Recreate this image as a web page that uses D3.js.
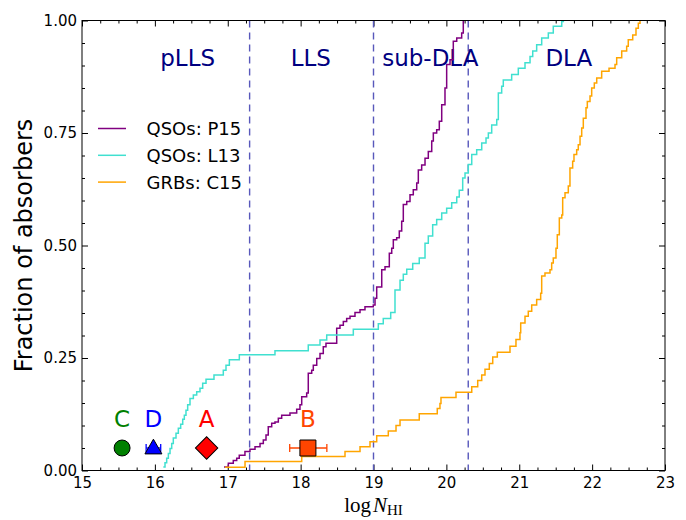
<!DOCTYPE html>
<html><head><meta charset="utf-8">
<script src="https://cdn.jsdelivr.net/npm/d3@7"></script>
<style>body{margin:0;background:#fff}svg{display:block}</style>
</head><body>
<svg id="c" width="686" height="520"></svg>
<script>
// ---- data ----
const p15LogN = [16.949,17.008,17.076,17.123,17.158,17.236,17.305,17.374,17.443,17.488,17.525,17.556,17.603,17.648,17.694,17.740,17.854,17.946,17.991,18.015,18.083,18.105,18.152,18.174,18.221,18.266,18.311,18.348,18.495,18.540,18.586,18.632,18.678,18.746,18.815,18.883,18.997,19.021,19.044,19.113,19.158,19.217,19.250,19.272,19.318,19.354,19.387,19.409,19.456,19.501,19.546,19.593,19.615,19.661,19.707,19.752,19.799,19.821,19.867,19.903,19.936,19.981,20.004,20.050,20.095,20.142,20.210,20.232];
const p15Frac = [0.008,0.016,0.022,0.027,0.034,0.042,0.047,0.053,0.060,0.068,0.079,0.097,0.105,0.108,0.116,0.123,0.128,0.136,0.146,0.164,0.172,0.216,0.223,0.234,0.249,0.260,0.275,0.283,0.316,0.323,0.331,0.338,0.343,0.351,0.357,0.364,0.368,0.383,0.408,0.446,0.453,0.483,0.494,0.513,0.517,0.532,0.554,0.591,0.598,0.613,0.624,0.639,0.668,0.679,0.694,0.709,0.732,0.750,0.757,0.776,0.813,0.850,0.902,0.913,0.954,0.961,0.972,1.0];

const l13LogN = [16.116,16.139,16.162,16.185,16.208,16.231,16.253,16.290,16.322,16.354,16.382,16.404,16.427,16.450,16.482,16.528,16.574,16.619,16.656,16.702,16.811,16.939,16.976,17.022,17.159,17.648,18.105,18.266,18.358,18.723,19.066,19.134,19.236,19.295,19.364,19.409,19.456,19.538,19.628,19.707,19.752,19.812,19.867,19.936,20.004,20.073,20.142,20.177,20.224,20.256,20.301,20.348,20.416,20.485,20.544,20.576,20.622,20.691,20.713,20.759,20.781,20.896,20.987,21.079,21.148,21.185,21.239,21.308,21.399,21.467,21.583,21.605];
const l13Frac = [0.008,0.017,0.027,0.038,0.049,0.060,0.072,0.083,0.094,0.103,0.114,0.123,0.134,0.146,0.160,0.168,0.175,0.183,0.194,0.203,0.212,0.223,0.234,0.246,0.257,0.266,0.279,0.290,0.301,0.314,0.326,0.338,0.351,0.401,0.423,0.436,0.447,0.460,0.472,0.505,0.521,0.546,0.558,0.572,0.583,0.595,0.608,0.623,0.650,0.661,0.680,0.702,0.713,0.728,0.739,0.750,0.768,0.780,0.839,0.854,0.868,0.880,0.894,0.906,0.920,0.932,0.946,0.961,0.972,0.987,0.998,1.0];

const c15LogN = [16.962,17.237,18.015,18.609,18.815,18.952,19.044,19.203,19.309,19.364,19.628,19.875,19.912,19.926,20.132,20.348,20.430,20.485,20.530,20.589,20.636,20.699,20.873,20.955,21.010,21.020,21.079,21.124,21.171,21.239,21.294,21.308,21.353,21.422,21.445,21.467,21.504,21.522,21.550,21.583,21.596,21.628,21.673,21.696,21.733,21.751,21.788,21.810,21.834,21.857,21.879,21.916,21.934,21.971,21.994,22.030,22.063,22.131,22.232,22.314,22.337,22.406,22.474,22.496,22.557,22.602,22.634,22.657];
const c15Frac = [0.007,0.020,0.031,0.042,0.053,0.064,0.077,0.088,0.100,0.112,0.126,0.138,0.149,0.162,0.174,0.186,0.200,0.212,0.225,0.238,0.252,0.263,0.276,0.291,0.306,0.328,0.343,0.354,0.368,0.380,0.394,0.432,0.439,0.446,0.461,0.472,0.494,0.524,0.561,0.568,0.606,0.617,0.632,0.672,0.687,0.702,0.713,0.724,0.743,0.761,0.783,0.806,0.820,0.832,0.850,0.861,0.872,0.887,0.894,0.902,0.917,0.932,0.943,0.957,0.968,0.983,0.994,1.0];

const seriesNames = ["QSOs: P15","QSOs: L13","GRBs: C15"];
const seriesColors = ["#800080","#40e0d0","#ffa500"];

const boundaries = [17.3, 19.0, 20.3];
const regionNames = ["pLLS","LLS","sub-DLA","DLA"];
const regionLogN = [16.45, 18.14, 19.78, 21.68];

const markerNames = ["C","D","A","B"];
const markerLogN = [15.55, 15.98, 16.71, 18.10];
const markerFrac = [0.05, 0.05, 0.05, 0.05];
const markerErrLo = [null, 15.88, null, 17.85];
const markerErrHi = [null, 16.08, null, 18.36];
const markerColors = ["#008000","#0000ff","#ff0000","#ff4500"];
const markerShapes = ["circle","triangle","diamond","square"];

const xTicks = [15,16,17,18,19,20,21,22,23];
const yTicks = [0,0.25,0.5,0.75,1.0];

// ---- chart ----
const svg = d3.select("#c");
const L = 82, R = 665, T = 20.5, B = 470.5;
const x = d3.scaleLinear().domain([15,23]).range([L,R]);
const y = d3.scaleLinear().domain([0,1]).range([B,T]);
const font = "'DejaVu Sans', sans-serif";

// minor tick values
const xMinor = d3.range(15, 23.001, 0.25).filter(v => Math.abs(v - Math.round(v)) > 1e-6);
const yMinor = d3.range(0, 1.0001, 0.05).filter(v => Math.abs(v*4 - Math.round(v*4)) > 1e-6);

function styleAxis(g){ g.select(".domain").remove(); g.selectAll("line").attr("stroke","#000"); g.selectAll("text").attr("font-family",font).attr("font-size",15).attr("fill","#000"); }

svg.append("g").attr("transform",`translate(0,${B})`).call(d3.axisBottom(x).tickValues(xTicks).tickFormat(d3.format("d")).tickSizeInner(-6).tickSizeOuter(0).tickPadding(7)).call(styleAxis);
svg.append("g").attr("transform",`translate(0,${B})`).call(d3.axisBottom(x).tickValues(xMinor).tickFormat("").tickSizeInner(-3).tickSizeOuter(0)).call(styleAxis);
svg.append("g").attr("transform",`translate(0,${T})`).call(d3.axisTop(x).tickValues(xTicks).tickFormat("").tickSizeInner(-6).tickSizeOuter(0)).call(styleAxis);
svg.append("g").attr("transform",`translate(0,${T})`).call(d3.axisTop(x).tickValues(xMinor).tickFormat("").tickSizeInner(-3).tickSizeOuter(0)).call(styleAxis);
svg.append("g").attr("transform",`translate(${L},0)`).call(d3.axisLeft(y).tickValues(yTicks).tickFormat(d3.format(".2f")).tickSizeInner(-6).tickSizeOuter(0).tickPadding(5)).call(styleAxis);
svg.append("g").attr("transform",`translate(${L},0)`).call(d3.axisLeft(y).tickValues(yMinor).tickFormat("").tickSizeInner(-3).tickSizeOuter(0)).call(styleAxis);
svg.append("g").attr("transform",`translate(${R},0)`).call(d3.axisRight(y).tickValues(yTicks).tickFormat("").tickSizeInner(-6).tickSizeOuter(0)).call(styleAxis);
svg.append("g").attr("transform",`translate(${R},0)`).call(d3.axisRight(y).tickValues(yMinor).tickFormat("").tickSizeInner(-3).tickSizeOuter(0)).call(styleAxis);

// boundaries
svg.append("g").selectAll("line").data(boundaries).join("line")
  .attr("x1",d=>x(d)).attr("x2",d=>x(d)).attr("y1",T).attr("y2",B)
  .attr("stroke","#5858bb").attr("stroke-width",1.4).attr("stroke-dasharray","7,5");

// region labels
svg.append("g").selectAll("text").data(regionNames).join("text")
  .attr("x",(d,i)=>x(regionLogN[i])).attr("y",66).attr("text-anchor","middle")
  .attr("font-family",font).attr("font-size",23).attr("fill","#000080").text(d=>d);

// curves
const series = [[p15LogN,p15Frac],[l13LogN,l13Frac],[c15LogN,c15Frac]];
const line = d3.line().x(d=>x(d[0])).y(d=>y(d[1])).curve(d3.curveStepAfter);
series.forEach((s,i)=>{
  const pts = s[0].map((v,j)=>[v,s[1][j]]);
  svg.append("path").datum(pts).attr("d",line).attr("fill","none")
    .attr("stroke",seriesColors[i]).attr("stroke-width",1.5);
});

// markers: error bars
markerNames.forEach((n,i)=>{
  if (markerErrLo[i]==null) return;
  const g = svg.append("g").attr("stroke",markerColors[i]).attr("stroke-width",1.3);
  const yy = y(markerFrac[i]);
  g.append("line").attr("x1",x(markerErrLo[i])).attr("x2",x(markerErrHi[i])).attr("y1",yy).attr("y2",yy);
  [markerErrLo[i],markerErrHi[i]].forEach(v=>g.append("line").attr("x1",x(v)).attr("x2",x(v)).attr("y1",yy-4).attr("y2",yy+4));
});
const symTypes = {circle:d3.symbolCircle, triangle:d3.symbolTriangle, diamond:d3.symbolSquare, square:d3.symbolSquare};
const symSize = {circle:200, triangle:125, diamond:250, square:256};
markerNames.forEach((n,i)=>{
  const sh = markerShapes[i];
  const cx = x(markerLogN[i]), cy = y(markerFrac[i]);
  svg.append("path").attr("d",d3.symbol().type(symTypes[sh]).size(symSize[sh])())
    .attr("transform",`translate(${cx},${cy + (sh==="triangle"?1:0)}) rotate(${sh==="diamond"?45:0})`)
    .attr("fill",markerColors[i]).attr("stroke","#000").attr("stroke-width",1);
  svg.append("text").attr("x",cx).attr("y",cy-21).attr("text-anchor","middle")
    .attr("font-family",font).attr("font-size",23).attr("fill",markerColors[i]).text(n);
});

// legend
const lg = svg.append("g");
seriesNames.forEach((n,i)=>{
  const yy = 128.5 + i*26.8;
  lg.append("line").attr("x1",98).attr("x2",126).attr("y1",yy).attr("y2",yy).attr("stroke",seriesColors[i]).attr("stroke-width",1.5);
  lg.append("text").attr("x",146.5).attr("y",yy+6.5).attr("font-family",font).attr("font-size",18).attr("fill","#000").text(n);
});

// frame
svg.append("rect").attr("x",L).attr("y",T).attr("width",R-L).attr("height",B-T).attr("fill","none").attr("stroke","#000").attr("stroke-width",1);

// axis labels
svg.append("text").attr("transform",`translate(32,${(T+B)/2}) rotate(-90)`).attr("text-anchor","middle")
  .attr("font-family",font).attr("font-size",24).attr("fill","#000").text("Fraction of absorbers");
const xl = svg.append("text").attr("x",(L+R)/2).attr("y",512).attr("text-anchor","middle")
  .attr("font-family","'Liberation Serif', 'DejaVu Serif', serif").attr("font-size",21).attr("fill","#000");
xl.append("tspan").text("log");
xl.append("tspan").attr("font-style","italic").attr("dx",2).text("N");
xl.append("tspan").attr("font-size",15).attr("dy",3).text("HI");
</script>
</body></html>
